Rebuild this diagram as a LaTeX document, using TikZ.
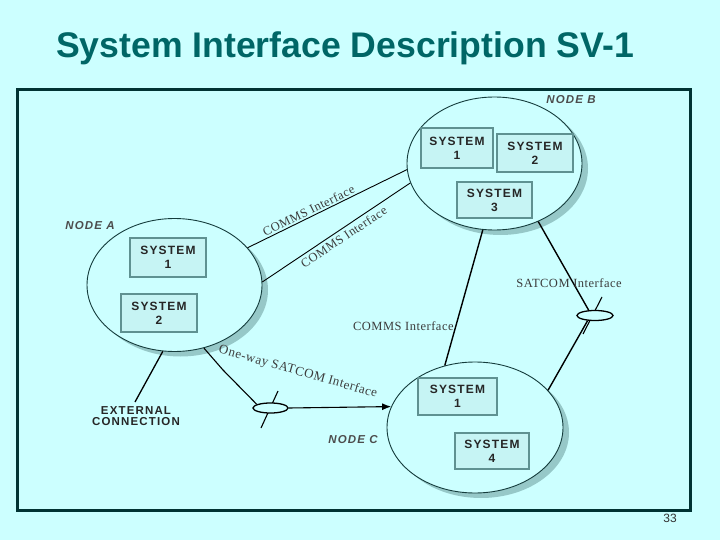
\documentclass[tikz,border=0pt]{standalone}
\usepackage{fontspec}
\setmainfont{Liberation Serif}
\newfontfamily\titlefont{Liberation Sans}
\newfontfamily\sysfont[LetterSpace=10]{Liberation Sans}
\newfontfamily\labfont[LetterSpace=4]{Liberation Serif}
\usetikzlibrary{shapes.geometric,arrows.meta,shadows}
\definecolor{bgc}{RGB}{204,255,255}
\definecolor{titlec}{RGB}{0,102,102}
\definecolor{framec}{RGB}{0,51,51}
\definecolor{shadowc}{RGB}{150,200,200}
\definecolor{boxfill}{RGB}{198,244,244}
\definecolor{boxline}{RGB}{95,145,145}
\definecolor{ellc}{RGB}{20,60,60}
\definecolor{labc}{RGB}{60,60,60}
\tikzset{
  nodecirc/.style={ellipse, draw=ellc, line width=0.9pt, fill=bgc,
    minimum width=175pt, minimum height=133pt, inner sep=0pt,
    drop shadow={fill=shadowc, opacity=1, shadow xshift=6pt, shadow yshift=-5pt}},
  boxst/.style={rectangle, draw=boxline, line width=1.2pt, fill=boxfill,
    inner sep=0pt, align=center, text=black!85,
    font=\sysfont\bfseries\fontsize{12}{14}\selectfont},
  nodelab/.style={font=\sysfont\bfseries\itshape\fontsize{11.5}{12}\selectfont, text=black!70},
  conn/.style={draw=black, line width=1.1pt},
  lab/.style={font=\labfont\fontsize{12.5}{14}\selectfont, text=labc},
  sat/.style={ellipse, draw=black, line width=1.3pt, fill=bgc,
    minimum width=36pt, minimum height=10pt, inner sep=0pt}
}
\begin{document}
\begin{tikzpicture}[x=1pt,y=-1pt]
\fill[bgc] (0,0) rectangle (720,540);
\useasboundingbox (0,0) rectangle (720,540);

% title
\node[anchor=base west, inner sep=0pt, text=titlec,
      font=\titlefont\bfseries\fontsize{35.6}{40}\selectfont] (title) at (56,57.5)
      {System Interface Description SV-1};

% frame
\draw[framec, line width=3pt] (17,90) rectangle (690,510);
\node[font=\titlefont\fontsize{12}{14}\selectfont, text=black!80] (pg) at (670,518) {33};

% nodes
\node[nodecirc] (A) at (174.5,285) {};
\node[nodecirc] (B) at (494.5,163.5) {};
\node[nodecirc, minimum width=176pt, minimum height=131pt] (C) at (475,427.5) {};

\node[nodelab] (labA) at (90,226) {NODE A};
\node[nodelab] (labB) at (571,100) {NODE B};
\node[nodelab] (labC) at (353,440) {NODE C};

% systems
\node[boxst, minimum width=72pt, minimum height=40pt] (B1) at (457,148) {SYSTEM\\1};
\node[boxst, minimum width=76pt, minimum height=38pt] (B2) at (535,153) {SYSTEM\\2};
\node[boxst, minimum width=75pt, minimum height=36pt] (B3) at (494.5,200) {SYSTEM\\3};
\node[boxst, minimum width=76pt, minimum height=39pt] (A1) at (168,257.5) {SYSTEM\\1};
\node[boxst, minimum width=76pt, minimum height=38pt] (A2) at (159,313) {SYSTEM\\2};
\node[boxst, minimum width=79pt, minimum height=37pt] (C1) at (457.5,396.5) {SYSTEM\\1};
\node[boxst, minimum width=74pt, minimum height=36pt] (C4) at (492,451) {SYSTEM\\4};

% satellites with antenna ticks
\coordinate (s1a) at (602,297);
\coordinate (s1b) at (583,334);
\draw[conn] (s1a) -- (s1b);
\node[sat] (S1) at (595,315.5) {};

\coordinate (s2a) at (278,391);
\coordinate (s2b) at (261,428);
\draw[conn] (s2a) -- (s2b);
\node[sat, minimum width=35pt] (S2) at (270.5,408) {};

% connectors A-B
\draw[conn, line width=0.9pt] (A.27) -- node[lab, sloped, above, pos=0.4, inner sep=1.5pt] (l1) {COMMS Interface} (B.184);
\draw[conn, line width=0.9pt] (A.2) -- node[lab, sloped, below, pos=0.52, inner sep=3pt] (l2) {COMMS Interface} (B.193.6);

% B-C
\draw[conn, line width=1.4pt] (B.260) -- node[lab, pos=0.71, anchor=east, inner sep=1.5pt] (l3) {COMMS Interface} (C.116);

% SATCOM B - S1 - C
\draw[conn, line width=1.4pt] (B.307.6) -- node[lab, pos=0.69, xshift=-4pt, inner sep=0pt] (l5) {SATCOM Interface} (S1.140);
\draw[conn, line width=1.4pt] (S1.215) -- (C.27.5);

% one-way SATCOM A - S2 - C
\coordinate (bend) at (223,370);
\draw[conn] (A.295.4) -- (bend) -- (S2.165);
\draw[conn, -{Latex[length=9pt,width=7pt]}] (S2.east) -- (C.166);
\node[lab, font=\labfont\fontsize{13}{15}\selectfont, rotate=-15.8] (l4) at (298,372) {One-way SATCOM Interface};

% external connection
\coordinate (ext) at (135,402);
\draw[conn, line width=1.3pt] (A.260) -- (ext);
\node[font=\sysfont\bfseries\fontsize{11.5}{11}\selectfont, text=black!85, align=center,
      anchor=north, inner sep=0pt] (extlab) at (136,406) {EXTERNAL\\CONNECTION};
\end{tikzpicture}
\end{document}
